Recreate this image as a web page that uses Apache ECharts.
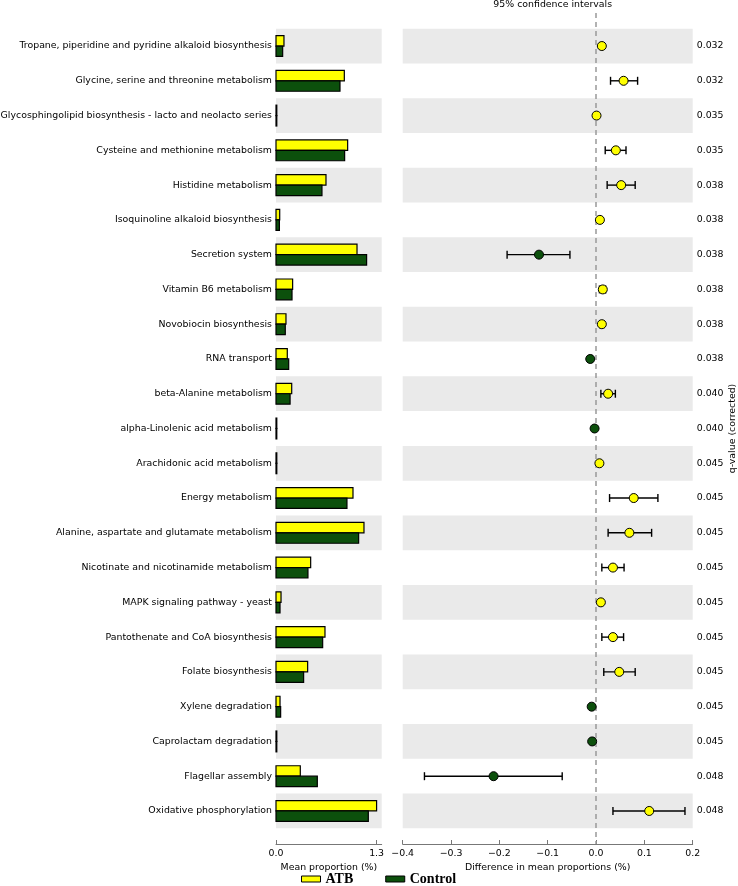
<!DOCTYPE html>
<html>
<head>
<meta charset="utf-8">
<script src="https://cdn.jsdelivr.net/npm/echarts@6/dist/echarts.min.js"></script>
<style>html,body{margin:0;padding:0;background:#fff}#c{width:738px;height:886px}</style>
</head>
<body>
<div id="c"></div>
<script>
var categories = [
  'Tropane, piperidine and pyridine alkaloid biosynthesis',
  'Glycine, serine and threonine metabolism',
  'Glycosphingolipid biosynthesis - lacto and neolacto series',
  'Cysteine and methionine metabolism',
  'Histidine metabolism',
  'Isoquinoline alkaloid biosynthesis',
  'Secretion system',
  'Vitamin B6 metabolism',
  'Novobiocin biosynthesis',
  'RNA transport',
  'beta-Alanine metabolism',
  'alpha-Linolenic acid metabolism',
  'Arachidonic acid metabolism',
  'Energy metabolism',
  'Alanine, aspartate and glutamate metabolism',
  'Nicotinate and nicotinamide metabolism',
  'MAPK signaling pathway - yeast',
  'Pantothenate and CoA biosynthesis',
  'Folate biosynthesis',
  'Xylene degradation',
  'Caprolactam degradation',
  'Flagellar assembly',
  'Oxidative phosphorylation'
];
var atbMean     = [0.103, 0.883, 0.003, 0.926, 0.646, 0.048, 1.047, 0.215, 0.129, 0.146, 0.203, 0.003, 0.003, 0.995, 1.137, 0.448, 0.065, 0.633, 0.409, 0.052, 0.004, 0.314, 1.300];
var controlMean = [0.086, 0.827, 0.002, 0.887, 0.594, 0.044, 1.171, 0.207, 0.120, 0.164, 0.182, 0.004, 0.010, 0.917, 1.068, 0.413, 0.052, 0.603, 0.357, 0.060, 0.008, 0.534, 1.193];
var diffMean = [0.012, 0.057, 0.001, 0.041, 0.052, 0.008, -0.118, 0.014, 0.012, -0.012, 0.025, -0.003, 0.007, 0.078, 0.069, 0.035, 0.010, 0.035, 0.048, -0.009, -0.008, -0.212, 0.110];
var ciLow  = [0.008, 0.030, 0.000, 0.019, 0.023, 0.005, -0.184, 0.007, 0.008, -0.016, 0.010, -0.004, 0.004, 0.028, 0.025, 0.012, 0.007, 0.012, 0.016, -0.012, -0.011, -0.355, 0.035];
var ciHigh = [0.016, 0.086, 0.002, 0.062, 0.081, 0.011, -0.054, 0.020, 0.016, -0.008, 0.040, -0.002, 0.010, 0.128, 0.115, 0.058, 0.013, 0.057, 0.081, -0.006, -0.005, -0.070, 0.184];
var qValues = ['0.032','0.032','0.035','0.035','0.038','0.038','0.038','0.038','0.038','0.038','0.040','0.040','0.045','0.045','0.045','0.045','0.045','0.045','0.045','0.045','0.045','0.048','0.048'];
var meanTicks = [0, 1.3];
var diffTicks = [-0.4, -0.3, -0.2, -0.1, 0.0, 0.1, 0.2];

var YELLOW = '#ffff00', GREEN = '#0c500c', BAND = '#eaeaea';
var FONT = 'DejaVu Sans';
var FS = 9.4;
var rows = categories.map(function (_, i) { return i; });

var bands = [];
rows.forEach(function (i) { if (i % 2 === 0) bands.push([{ yAxis: i - 0.5 }, { yAxis: i + 0.5 }]); });

function barItem(which) {
  return function (params, api) {
    var val = api.value(0), row = api.value(1);
    var p0 = api.coord([0, row]);
    var p1 = api.coord([val, row]);
    var h = api.size([0, 0.3])[1];
    var y = which === 0 ? p0[1] - h : p0[1];
    return {
      type: 'rect',
      shape: { x: p0[0], y: y, width: Math.max(p1[0] - p0[0], 0.8), height: h },
      style: { fill: which === 0 ? YELLOW : GREEN, stroke: '#000', lineWidth: 1.2 }
    };
  };
}

function errItem(params, api) {
  var lo = api.coord([api.value(0), api.value(2)]);
  var hi = api.coord([api.value(1), api.value(2)]);
  var c = 4;
  var st = { stroke: '#000', lineWidth: 1.4 };
  return {
    type: 'group',
    children: [
      { type: 'line', shape: { x1: lo[0], y1: lo[1], x2: hi[0], y2: hi[1] }, style: st },
      { type: 'line', shape: { x1: lo[0], y1: lo[1] - c, x2: lo[0], y2: lo[1] + c }, style: st },
      { type: 'line', shape: { x1: hi[0], y1: hi[1] - c, x2: hi[0], y2: hi[1] + c }, style: st }
    ]
  };
}

function fmtDiff(v) {
  var s = Math.abs(v).toFixed(1);
  return v < -1e-9 ? '\u2212' + s : s;
}

var yBase = { type: 'value', inverse: true, min: -0.95, max: 22.95,
  axisLine: { show: false }, axisTick: { show: false }, splitLine: { show: false } };

var option = {
  animation: false,
  textStyle: { fontFamily: FONT },
  title: {
    text: '95% confidence intervals', left: 547.7, top: -5, textAlign: 'center',
    textStyle: { fontFamily: FONT, fontSize: FS, fontWeight: 'normal', color: '#000' }
  },
  legend: {
    left: 296, top: 867, itemWidth: 19, itemHeight: 6, itemGap: 32, icon: 'rect',
    data: ['ATB', 'Control'],
    itemStyle: { borderColor: '#000', borderWidth: 1 },
    textStyle: { fontFamily: 'Liberation Serif', fontWeight: 'bold', fontSize: 14, color: '#000' }
  },
  grid: [
    { left: 276, right: 356.3, top: 13, bottom: 42, containLabel: false, outerBoundsMode: 'none' },
    { left: 402.7, right: 45.3, top: 13, bottom: 42, containLabel: false, outerBoundsMode: 'none' }
  ],
  xAxis: [
    { gridIndex: 0, type: 'value', min: 0, max: 1.366,
      name: 'Mean proportion (%)', nameLocation: 'middle', nameGap: 17,
      nameTextStyle: { fontFamily: FONT, fontSize: FS, color: '#000' },
      axisLine: { onZero: false, lineStyle: { color: '#777', width: 1 } },
      axisTick: { inside: true, length: 4, customValues: meanTicks, lineStyle: { color: '#777' } },
      axisLabel: { customValues: meanTicks, margin: 5, fontSize: FS, color: '#000', fontFamily: FONT,
        formatter: function (v) { return v.toFixed(1); } },
      splitLine: { show: false } },
    { gridIndex: 1, type: 'value', min: -0.4, max: 0.2, interval: 0.1,
      name: 'Difference in mean proportions (%)', nameLocation: 'middle', nameGap: 17,
      nameTextStyle: { fontFamily: FONT, fontSize: FS, color: '#000' },
      axisLine: { onZero: false, lineStyle: { color: '#777', width: 1 } },
      axisTick: { inside: true, length: 4, customValues: diffTicks, lineStyle: { color: '#777' } },
      axisLabel: { customValues: diffTicks, margin: 5, fontSize: FS, color: '#000', fontFamily: FONT, formatter: fmtDiff },
      splitLine: { show: false } }
  ],
  yAxis: [
    Object.assign({}, yBase, { gridIndex: 0,
      axisLabel: { customValues: rows, margin: 4, fontSize: FS, color: '#000', fontFamily: FONT,
        formatter: function (v) { return categories[Math.round(v)]; } } }),
    Object.assign({}, yBase, { gridIndex: 1, position: 'right',
      name: 'q-value (corrected)', nameLocation: 'middle', nameRotate: 90, nameGap: 35,
      nameTextStyle: { fontFamily: FONT, fontSize: FS, color: '#000' },
      axisLabel: { customValues: rows, margin: 4, fontSize: FS, color: '#000', fontFamily: FONT,
        formatter: function (v) { return qValues[Math.round(v)]; } } })
  ],
  series: [
    { type: 'custom', name: 'bands-left', xAxisIndex: 0, yAxisIndex: 0, data: [], silent: true,
      renderItem: function () { return null; },
      markArea: { silent: true, itemStyle: { color: BAND }, data: bands } },
    { type: 'custom', name: 'ATB', xAxisIndex: 0, yAxisIndex: 0, z: 3,
      itemStyle: { color: YELLOW },
      data: atbMean.map(function (v, i) { return [v, i]; }), renderItem: barItem(0) },
    { type: 'custom', name: 'Control', xAxisIndex: 0, yAxisIndex: 0, z: 3,
      itemStyle: { color: GREEN },
      data: controlMean.map(function (v, i) { return [v, i]; }), renderItem: barItem(1) },
    { type: 'custom', name: 'ci', xAxisIndex: 1, yAxisIndex: 1, z: 3,
      data: rows.map(function (i) { return [ciLow[i], ciHigh[i], i]; }), renderItem: errItem,
      markArea: { silent: true, itemStyle: { color: BAND }, data: bands } },
    { type: 'scatter', name: 'diff', xAxisIndex: 1, yAxisIndex: 1, z: 4, symbolSize: 9,
      data: diffMean.map(function (v, i) {
        return { value: [v, i], itemStyle: { color: v >= 0 ? YELLOW : GREEN, borderColor: '#000', borderWidth: 1, opacity: 1 } };
      }),
      markLine: { silent: true, symbol: 'none', label: { show: false }, z: 2,
        lineStyle: { type: [5, 4], color: '#999', width: 1.5 },
        data: [{ xAxis: 0 }] } }
  ]
};
echarts.init(document.getElementById('c'), null, { renderer: 'canvas' }).setOption(option);
</script>
</body>
</html>
